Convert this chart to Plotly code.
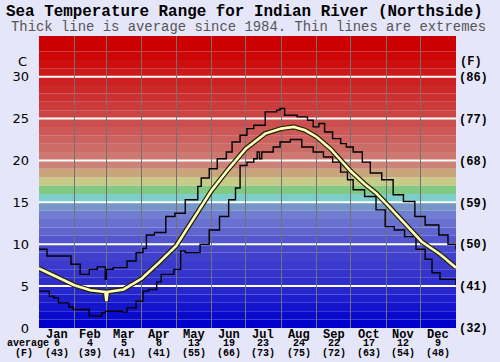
import plotly.graph_objects as go

# ---------------- data ----------------
months = ["Jan", "Feb", "Mar", "Apr", "May", "Jun", "Jul", "Aug", "Sep", "Oct", "Nov", "Dec"]
month_days = [31, 28, 31, 30, 31, 30, 31, 31, 30, 31, 30, 31]
avg_c_labels = ["6", "4", "5", "8", "13", "19", "23", "24", "22", "17", "12", "9"]
avg_f_labels = ["(43)", "(39)", "(41)", "(41)", "(55)", "(66)", "(73)", "(75)", "(72)", "(63)", "(54)", "(48)"]

c_ticks = [0, 5, 10, 15, 20, 25, 30]
c_tick_text = ["0", "5", "10", "15", "20", "25", "30"]
f_tick_text = ["(32)", "(41)", "(50)", "(59)", "(68)", "(77)", "(86)"]

# average daily sea temperature (day of year, deg C)
avg_day = [0, 15, 31, 45, 58, 59, 60, 74, 90, 105, 120, 135, 151, 166, 181, 198, 212, 223,
           233, 243, 255, 263, 273, 285, 295, 305, 319, 335, 351, 365]
avg_temp = [7.1, 6.1, 5.1, 4.5, 4.3, 3.2, 4.3, 4.6, 5.9, 7.8, 9.8, 13.0, 16.4, 19.0, 21.4, 23.2, 23.8, 24.0,
            23.6, 22.8, 21.4, 20.2, 18.7, 17.2, 16.1, 14.7, 12.7, 10.3, 8.8, 7.2]

# maximum (upper extreme)
max_day = [0, 7, 28, 36, 44, 51, 58, 59, 65, 77, 85, 91, 94, 101, 111, 119, 128, 139, 142, 149,
           156, 164, 169, 176, 182, 188, 198, 208, 211, 215, 226, 235, 240, 245, 250, 257, 264,
           269, 275, 283, 290, 300, 310, 319, 329, 338, 350, 358, 365]
max_temp = [9.4, 8.6, 7.6, 6.4, 7.0, 7.3, 5.8, 7.0, 7.2, 8.0, 9.0, 9.5, 11.1, 11.4, 13.3, 13.7, 15.3, 16.9, 17.9, 19.0,
            20.2, 21.0, 22.2, 23.0, 23.8, 24.2, 25.8, 26.0, 26.2, 25.4, 25.2, 24.8, 24.0, 24.4, 23.4, 22.6, 22.0,
            21.6, 21.0, 19.8, 18.5, 17.7, 15.9, 15.1, 13.3, 12.3, 11.1, 10.0, 9.4]

# minimum (lower extreme)
min_day = [0, 9, 13, 17, 26, 30, 44, 50, 55, 58, 73, 77, 85, 91, 96, 103, 107, 118, 124, 128,
           141, 149, 158, 166, 172, 176, 182, 188, 191, 193, 195, 205, 211, 220, 230, 240, 249,
           257, 264, 270, 275, 285, 295, 303, 311, 320, 330, 338, 344, 351, 365]
min_temp = [4.4, 3.8, 3.6, 3.0, 2.5, 2.2, 1.45, 1.4, 1.85, 2.0, 1.9, 2.4, 3.2, 4.4, 4.6, 5.5, 6.4, 7.0, 9.2, 9.0,
            10.0, 11.7, 13.3, 15.3, 16.7, 19.4, 19.8, 20.2, 21.0, 20.2, 21.0, 21.6, 22.2, 22.5, 21.6, 21.0, 20.4,
            19.8, 18.6, 17.7, 16.5, 15.7, 14.1, 12.1, 11.7, 10.9, 9.4, 8.2, 6.6, 5.8, 5.1]

# background colour band for each whole degree (0..35)
band_colors = [
    (0, 0, 205), (10, 10, 205), (20, 20, 205), (30, 30, 205), (38, 38, 205),
    (46, 46, 205), (52, 52, 205), (58, 58, 205), (64, 64, 205), (72, 72, 205),
    (84, 86, 205), (95, 100, 207), (105, 112, 208), (112, 125, 208), (118, 150, 200),
    (125, 205, 205), (130, 202, 130), (202, 202, 135), (200, 165, 122), (205, 130, 120),
    (205, 120, 112), (205, 108, 102), (205, 98, 95), (205, 88, 88), (205, 78, 78),
    (205, 68, 68), (205, 58, 58), (205, 48, 48), (205, 40, 40), (205, 32, 32),
    (205, 25, 25), (205, 15, 15), (205, 6, 6), (204, 0, 0), (204, 0, 0), (204, 0, 0),
]

# ---------------- figure ----------------
month_start = [0]
for d in month_days:
    month_start.append(month_start[-1] + d)
month_mid = [(month_start[i] + month_start[i + 1]) / 2 for i in range(12)]

Y_TOP = 34.85
fig = go.Figure()

shapes = []
for i, col in enumerate(band_colors):
    shapes.append(dict(type="rect", xref="paper", x0=0, x1=1, yref="y", y0=i, y1=min(i + 1, Y_TOP),
                       fillcolor="rgb(%d,%d,%d)" % col, line=dict(width=0), layer="below"))
for v in c_ticks[1:]:
    shapes.append(dict(type="line", xref="paper", x0=0, x1=1, yref="y", y0=v, y1=v,
                       line=dict(color="white", width=2), layer="below"))

fig.add_trace(go.Scatter(x=max_day, y=max_temp, mode="lines", line=dict(color="black", width=1.4, shape="hv"),
                         hoverinfo="skip", showlegend=False))
fig.add_trace(go.Scatter(x=min_day, y=min_temp, mode="lines", line=dict(color="black", width=1.4, shape="hv"),
                         hoverinfo="skip", showlegend=False))
fig.add_trace(go.Scatter(x=avg_day, y=avg_temp, mode="lines", line=dict(color="#222200", width=5),
                         hoverinfo="skip", showlegend=False))
fig.add_trace(go.Scatter(x=avg_day, y=avg_temp, mode="lines", line=dict(color="#ffffbe", width=2.6),
                         hoverinfo="skip", showlegend=False))
# invisible trace to anchor the Fahrenheit axis
fig.add_trace(go.Scatter(x=[0], y=[0], yaxis="y2", mode="markers", marker=dict(opacity=0),
                         hoverinfo="skip", showlegend=False))

annotations = []
mono = "Liberation Mono, Courier New, monospace"
annotations.append(dict(text="<b>Sea Temperature Range for Indian River (Northside)</b>", xref="paper", yref="paper",
                        x=(246 - 35) / 428, y=1, yshift=24, xanchor="center", yanchor="middle", showarrow=False,
                        font=dict(family=mono, size=15.9, color="black")))
annotations.append(dict(text="Thick line is average since 1984. Thin lines are extremes", xref="paper", yref="paper",
                        x=(250 - 35) / 428, y=1, yshift=9, xanchor="center", yanchor="middle", showarrow=False,
                        font=dict(family=mono, size=13.9, color="#555555")))
for i in range(12):
    annotations.append(dict(text="<b>%s</b>" % months[i], xref="x", yref="paper", x=month_mid[i], y=0,
                            yshift=-6.5, xanchor="center", yanchor="middle", showarrow=False,
                            font=dict(family=mono, size=12, color="black")))
    annotations.append(dict(text="<b>%s</b>" % avg_c_labels[i], xref="x", yref="paper", x=month_mid[i], y=0,
                            yshift=-15.5, xanchor="center", yanchor="middle", showarrow=False,
                            font=dict(family=mono, size=10, color="black")))
    annotations.append(dict(text="<b>%s</b>" % avg_f_labels[i], xref="x", yref="paper", x=month_mid[i], y=0,
                            yshift=-25, xanchor="center", yanchor="middle", showarrow=False,
                            font=dict(family=mono, size=10, color="black")))
annotations.append(dict(text="<b>average</b>", xref="paper", yref="paper", x=0, y=0, xshift=-34, yshift=-15.5,
                        xanchor="left", yanchor="middle", showarrow=False,
                        font=dict(family=mono, size=10, color="black")))
annotations.append(dict(text="<b>(F)</b>", xref="paper", yref="paper", x=0, y=0, xshift=-15, yshift=-25,
                        xanchor="center", yanchor="middle", showarrow=False,
                        font=dict(family=mono, size=10, color="black")))
annotations.append(dict(text="C", xref="paper", yref="paper", x=0, y=1, xshift=-17, yshift=-25,
                        xanchor="center", yanchor="middle", showarrow=False,
                        font=dict(family="DejaVu Sans", size=13, color="black")))
annotations.append(dict(text="<b>(F)</b>", xref="paper", yref="paper", x=1, y=1, xshift=15, yshift=-26,
                        xanchor="center", yanchor="middle", showarrow=False,
                        font=dict(family=mono, size=12, color="black")))

fig.update_layout(
    width=500, height=362,
    margin=dict(l=35, r=37, t=36, b=34, pad=0),
    paper_bgcolor="#e6e6fa", plot_bgcolor="#e6e6fa",
    shapes=shapes, annotations=annotations,
    xaxis=dict(range=[0, 365], showticklabels=False, showgrid=False, zeroline=False, ticks="",
               tickvals=month_mid,
               minor=dict(tickvals=month_start[1:-1], showgrid=True, gridcolor="#727272", gridwidth=1, ticks="")),
    yaxis=dict(range=[0, Y_TOP], tickvals=c_ticks, ticktext=c_tick_text, showgrid=False, zeroline=False,
               ticks="", ticklabelstandoff=9, tickfont=dict(family="DejaVu Sans", size=13, color="black")),
    yaxis2=dict(range=[0, Y_TOP], overlaying="y", side="right", tickvals=c_ticks, ticktext=f_tick_text,
                showgrid=False, zeroline=False, ticks="", ticklabelstandoff=2,
                tickfont=dict(family=mono, size=12, color="black", weight="bold")),
    showlegend=False,
)

fig.write_html("out.html", config={"displayModeBar": False},
               post_script="document.body.style.margin='0';document.body.style.padding='0';")
